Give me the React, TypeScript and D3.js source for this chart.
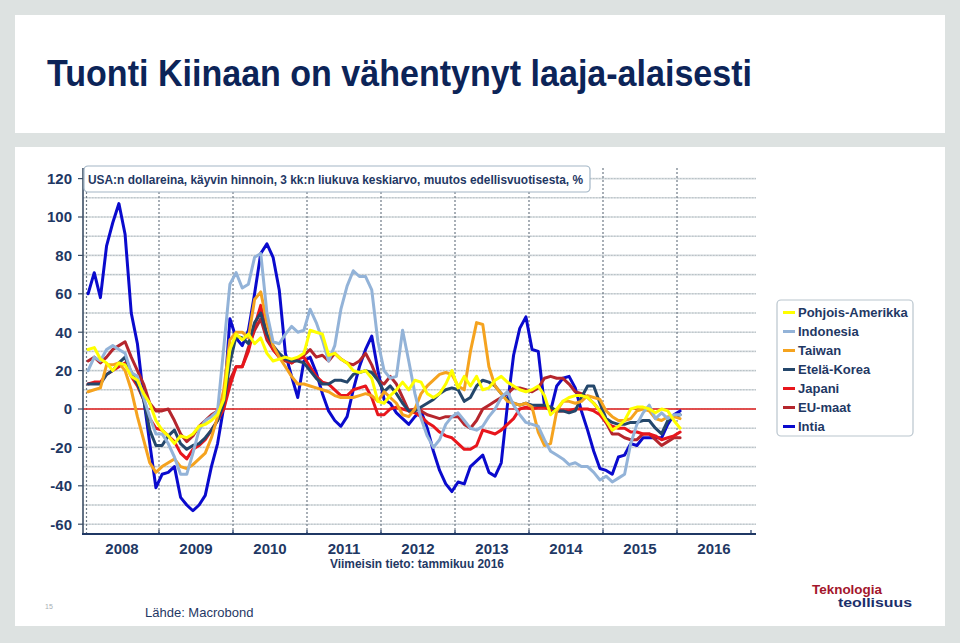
import React from "react";
import * as d3 from "d3";

const seriesNames = ["Pohjois-Amerikka", "Indonesia", "Taiwan", "Etelä-Korea", "Japani", "EU-maat", "Intia"];
const seriesColors = ["#ffff00", "#93b3d8", "#f5a31f", "#24476b", "#e8161c", "#b5262d", "#0a0acd"];

const yearLabels = ["2008", "2009", "2010", "2011", "2012", "2013", "2014", "2015", "2016"];
const yTicks = [120, 100, 80, 60, 40, 20, 0, -20, -40, -60];

// monthly values, Jan 2008 .. Jan 2016
const pohjoisAmerikka = [31, 32, 26, 24, 20, 24, 23, 17, 15, 8, 3, -6, -11, -14, -18, -14, -15, -13, -9, -8, -6, -3, 5, 31, 39, 36, 39, 34, 37, 29, 25, 26, 27, 26, 27, 29, 41, 40, 39, 28, 29, 26, 24, 20, 19, 20, 16, 4, 3, 7, 10, 14, 10, 15, 14, 8, 6, 8, 13, 20, 11, 17, 12, 17, 10, 11, 15, 17, 14, 12, 10, 9, 10, 12, 7, -3, 0, 4, 6, 7, 7, 6, 3, -1, -6, -11, -9, -6, 0, 1, 1, 0, -2, 0, -1, -6, -10];
const indonesia = [20, 27, 25, 31, 33, 31, 29, 19, 17, 6, -4, -13, -13, -18, -25, -34, -34, -23, -11, -6, -4, -1, 32, 65, 71, 63, 65, 79, 81, 50, 35, 34, 39, 43, 40, 41, 52, 45, 36, 25, 33, 52, 64, 72, 69, 69, 62, 35, 20, 16, 17, 41, 25, 8, -5, -14, -20, -16, -8, -4, -2, -6, -10, -11, -9, -4, 0, 6, 9, 2, -3, -7, -8, -9, -16, -22, -24, -26, -29, -28, -30, -30, -33, -37, -35, -38, -36, -34, -18, -8, -2, 2, -5, -2, -5, -3, -3];
const taiwan = [9, 10, 11, 23, 23, 24, 20, 10, -4, -16, -28, -33, -30, -28, -26, -30, -31, -29, -26, -23, -15, -4, 10, 36, 40, 40, 37, 57, 61, 45, 33, 27, 22, 17, 13, 13, 12, 11, 10, 9, 7, 6, 6, 6, 7, 8, 7, 4, 9, 6, 3, -3, -4, 0, 8, 12, 15, 18, 19, 18, 12, 10, 30, 45, 44, 22, 12, 8, 4, 3, 2, 3, 1, -12, -19, -18, -1, 4, 4, 3, 4, 7, 6, 5, -1, -4, -6, -6, -5, -1, 0, -1, -5, -6, -4, -4, -5];
const etelaKorea = [13, 13, 13, 18, 20, 24, 27, 19, 13, 5, -11, -19, -19, -14, -11, -18, -21, -19, -18, -15, -11, -6, 3, 24, 38, 37, 34, 45, 50, 39, 33, 29, 26, 25, 25, 24, 20, 16, 13, 13, 15, 15, 14, 18, 19, 20, 19, 15, 9, 12, 8, 3, -1, -1, 1, 3, 5, 8, 10, 11, 10, 4, 6, 12, 15, 14, 12, 8, 5, 3, 2, 3, 2, 2, 2, 1, -1, -1, -2, -1, 6, 12, 12, 3, -5, -7, -8, -8, -7, -7, -6, -6, -10, -13, -6, -4, -3];
const japani = [13, 14, 14, 18, 20, 22, 24, 17, 12, 5, -5, -10, -11, -14, -17, -23, -26, -21, -19, -16, -11, -6, 0, 12, 22, 22, 30, 43, 54, 38, 31, 27, 26, 24, 26, 27, 22, 17, 14, 13, 10, 7, 7, 10, 11, 12, 6, -3, -3, 0, 1, 0, -1, -2, -4, -7, -9, -12, -14, -15, -18, -21, -21, -19, -11, -12, -13, -11, -8, -5, 0, 1, 0, 1, 1, 0, -1, -1, -1, 0, 0, 0, -1, -3, -7, -9, -10, -10, -12, -12, -13, -13, -14, -16, -15, -14, -12];
const euMaat = [25, 27, 24, 27, 31, 33, 35, 27, 20, 13, 3, -1, -1, 0, -6, -13, -17, -14, -9, -6, -3, -1, 1, 15, 22, 22, 32, 41, 47, 36, 31, 27, 25, 24, 26, 28, 31, 27, 28, 25, 29, 26, 24, 23, 25, 29, 23, 15, 13, 17, 13, 6, -1, 0, -1, -3, -4, -5, -4, -4, -4, -8, -10, -6, 0, 2, 4, 6, 8, 11, 11, 10, 9, 11, 16, 17, 16, 16, 13, 9, 8, 6, 3, -1, -7, -13, -13, -15, -16, -16, -13, -13, -16, -19, -17, -15, -15];
const intia = [60, 71, 58, 85, 97, 107, 91, 50, 34, 6, -18, -41, -34, -33, -30, -46, -50, -53, -50, -45, -30, -18, 1, 47, 37, 33, 41, 60, 81, 86, 79, 62, 29, 17, 6, 25, 27, 19, 8, -1, -6, -9, -4, 10, 22, 31, 38, 20, 5, 3, -2, -5, -8, -4, -1, -10, -22, -32, -39, -43, -38, -39, -30, -27, -24, -33, -35, -28, 2, 28, 42, 48, 31, 30, 2, -1, 12, 16, 17, 11, -1, -11, -22, -31, -32, -34, -25, -24, -18, -19, -15, -15, -15, -15, -8, -3, -1];

const seriesData = [pohjoisAmerikka, indonesia, taiwan, etelaKorea, japani, euMaat, intia];

const W = 960;
const H = 643;
const navy = "#1f3864";
const font = "'Liberation Sans', Arial, Helvetica, sans-serif";

export default function App() {
  const x = d3.scaleLinear().domain([0, 108]).range([85, 751]);
  const y = d3.scaleLinear().domain([0, 120]).range([409, 178.6]);
  const plotLeft = 83;
  const plotRight = 756;
  const plotTop = 168;
  const plotBottom = 534;

  const line = d3
    .line<number>()
    .x((_, i) => x(i + 0.5))
    .y((d) => y(d));

  const gridVals = d3.range(-60, 121, 10);
  const yearBounds = d3.range(0, 9).map((k) => k * 12);
  const drawOrder = [6, 5, 4, 3, 2, 1, 0];

  return (
    <svg width={W} height={H} style={{ position: "absolute", left: 0, top: 0, display: "block" }} fontFamily={font}>
      <rect x={0} y={0} width={W} height={H} fill="#dde2e1" />
      <rect x={15} y={15} width={930} height={118} fill="#ffffff" />
      <rect x={15} y={147} width={930} height={479} fill="#ffffff" />

      <text x={47} y={86} fontSize={36} fontWeight="bold" fill="#0c2458" textLength={705} lengthAdjust="spacingAndGlyphs">
        Tuonti Kiinaan on vähentynyt laaja-alaisesti
      </text>

      {/* horizontal gridlines */}
      {gridVals.map((v) => (
        <g key={"g" + v}>
          <line x1={plotLeft} x2={plotRight} y1={y(v)} y2={y(v)} stroke="#d6dcdf" strokeWidth={1.6} />
          <line x1={plotLeft} x2={plotRight} y1={y(v)} y2={y(v)} stroke="#b3bbc1" strokeWidth={0.9} strokeDasharray="1.5,1.5" />
        </g>
      ))}
      {/* vertical dotted year lines */}
      {yearBounds.map((m) => (
        <line key={"v" + m} x1={x(m) + (m === 0 ? 1.5 : 0)} x2={x(m) + (m === 0 ? 1.5 : 0)} y1={plotTop} y2={plotBottom} stroke="#6f7b87" strokeWidth={1.2} strokeDasharray="2,2" />
      ))}
      {/* zero line */}
      <line x1={plotLeft} x2={plotRight} y1={y(0)} y2={y(0)} stroke="#e3211f" strokeWidth={1.6} />

      {/* series */}
      {drawOrder.map((si) => (
        <path key={seriesNames[si]} d={line(seriesData[si]) || ""} fill="none" stroke={seriesColors[si]} strokeWidth={3} strokeLinejoin="round" strokeLinecap="round" />
      ))}

      {/* axes */}
      <line x1={plotLeft} x2={plotLeft} y1={plotTop} y2={plotBottom} stroke="#3d4f66" strokeWidth={1.6} />
      <line x1={plotLeft - 1} x2={plotRight} y1={plotBottom} y2={plotBottom} stroke={navy} strokeWidth={2} />
      {yearBounds.map((m) => (
        <line key={"t" + m} x1={x(m + 12)} x2={x(m + 12)} y1={plotBottom - 4} y2={plotBottom} stroke={navy} strokeWidth={1.2} />
      ))}
      {yTicks.map((v) => (
        <line key={"yt" + v} x1={plotLeft - 5} x2={plotLeft} y1={y(v)} y2={y(v)} stroke="#3d4f66" strokeWidth={1.2} />
      ))}
      {yTicks.map((v) => (
        <text key={"yl" + v} x={72} y={y(v)} dy="0.36em" textAnchor="end" fontSize={15} fontWeight="bold" fill={navy}>
          {v}
        </text>
      ))}
      {yearLabels.map((lab, k) => (
        <text key={lab} x={x(k * 12 + 6)} y={554} textAnchor="middle" fontSize={15} fontWeight="bold" fill={navy}>
          {lab}
        </text>
      ))}
      <text x={417} y={568} textAnchor="middle" fontSize={12} fontWeight="bold" fill={navy} textLength={174} lengthAdjust="spacingAndGlyphs">
        Viimeisin tieto: tammikuu 2016
      </text>

      {/* subtitle box */}
      <rect x={84} y={166} width={506} height={26} rx={4} fill="#ffffff" stroke="#a3b6c6" strokeWidth={1.2} />
      <text x={88} y={184} fontSize={12.5} fontWeight="bold" fill={navy} textLength={495} lengthAdjust="spacingAndGlyphs">
        USA:n dollareina, käyvin hinnoin, 3 kk:n liukuva keskiarvo, muutos edellisvuotisesta, %
      </text>

      {/* legend */}
      <rect x={777} y={300} width={136} height={136} rx={4} fill="#ffffff" stroke="#b9c5ce" strokeWidth={1.2} />
      {seriesNames.map((n, i) => (
        <g key={"lg" + n} transform={`translate(0, ${312.5 + i * 19})`}>
          <line x1={783} x2={795} y1={0} y2={0} stroke={seriesColors[i]} strokeWidth={3} />
          <text x={798} y={0} dy="0.36em" fontSize={13} fontWeight="bold" fill={navy}>
            {n}
          </text>
        </g>
      ))}

      {/* footer */}
      <text x={45} y={609} fontSize={7} fill="#a8aeb3">15</text>
      <text x={145} y={617} fontSize={13} fill={navy}>Lähde: Macrobond</text>
      <text x={812} y={594} fontSize={12.5} fontWeight="bold" fill="#a3162c" textLength={70} lengthAdjust="spacingAndGlyphs">Teknologia</text>
      <text x={838} y={607} fontSize={12.5} fontWeight="bold" fill="#1b2f6b" textLength={74} lengthAdjust="spacingAndGlyphs">teollisuus</text>
    </svg>
  );
}
